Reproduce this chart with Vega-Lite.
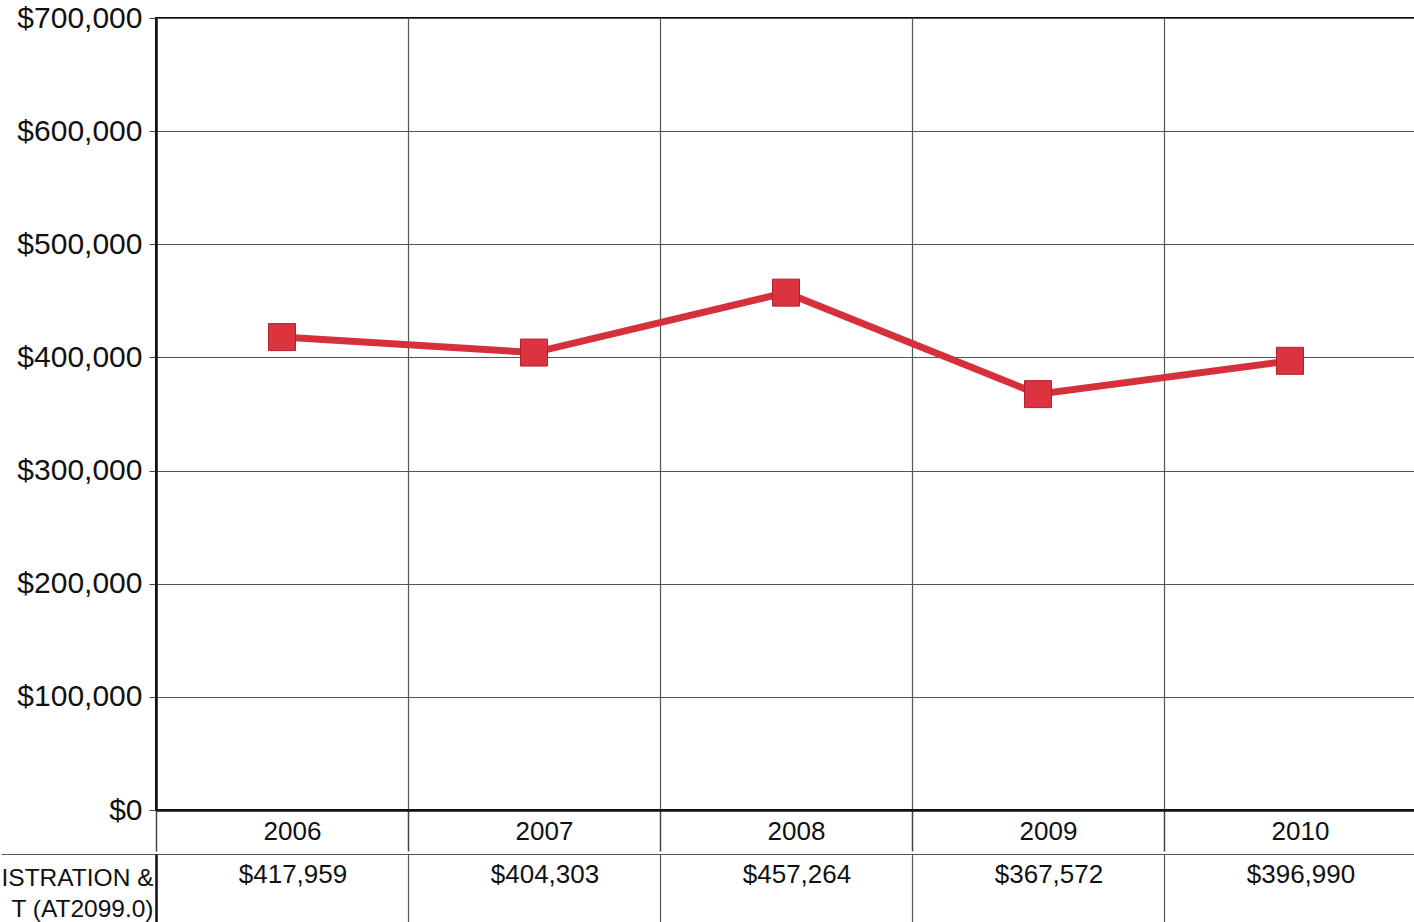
{
  "$schema": "https://vega.github.io/schema/vega-lite/v6.json",
  "padding": {"left": 0, "top": 2, "right": 0, "bottom": 0},
  "background": "white",
  "config": {"font": "Liberation Sans", "view": {"stroke": null}, "concat": {"spacing": 0}},
  "spacing": 0,
  "data": {
    "values": [
      {"year": "2006", "value": 417959, "row": "ISTRATION &\nT (AT2099.0)"},
      {"year": "2007", "value": 404303, "row": "ISTRATION &\nT (AT2099.0)"},
      {"year": "2008", "value": 457264, "row": "ISTRATION &\nT (AT2099.0)"},
      {"year": "2009", "value": 367572, "row": "ISTRATION &\nT (AT2099.0)"},
      {"year": "2010", "value": 396990, "row": "ISTRATION &\nT (AT2099.0)"}
    ]
  },
  "vconcat": [
    {
      "width": 1260,
      "height": 792,
      "view": {"stroke": "#111", "strokeWidth": 2},
      "encoding": {
        "x": {
          "field": "year", "type": "ordinal", "bandPosition": 0.5,
          "scale": {"type": "band", "paddingInner": 0, "paddingOuter": 0},
          "axis": {
            "title": null, "labelFontSize": 26, "labelColor": "#111", "labelAngle": 0,
            "labelOffset": 10,
            "tickBand": "extent", "tickSize": 41, "tickColor": "#444", "tickWidth": 1.5,
            "labelPadding": -33, "labelBaseline": "top",
            "domainColor": "#111", "domainWidth": 2.5,
            "grid": true, "gridColor": "#555", "gridWidth": 1.2
          }
        },
        "y": {
          "field": "value", "type": "quantitative",
          "scale": {"domain": [0, 700000], "nice": false},
          "axis": {
            "title": null,
            "values": [0, 100000, 200000, 300000, 400000, 500000, 600000, 700000],
            "format": "$,.0f", "labelFontSize": 30, "labelColor": "#111",
            "tickSize": 7, "tickColor": "#444", "labelPadding": 7,
            "domainColor": "#111", "domainWidth": 2.5,
            "grid": true, "gridColor": "#555", "gridWidth": 1.2
          }
        }
      },
      "layer": [
        {"mark": {"type": "line", "color": "#d7303d", "strokeWidth": 7}},
        {"mark": {"type": "square", "size": 729, "filled": true, "color": "#dc3340", "stroke": "#b52030", "strokeWidth": 1, "opacity": 1}}
      ]
    },
    {
      "width": 1260,
      "height": 70,
      "mark": {"type": "text", "fontSize": 26, "baseline": "top", "dx": 11, "dy": -27, "color": "#111"},
      "encoding": {
        "x": {
          "field": "year", "type": "ordinal", "bandPosition": 0.5,
          "scale": {"type": "band", "paddingInner": 0, "paddingOuter": 0},
          "axis": {
            "orient": "top", "title": null, "labels": false, "ticks": false, "domain": false,
            "grid": true, "tickBand": "extent", "gridColor": "#555", "gridWidth": 1.2
          }
        },
        "y": {
          "field": "row", "type": "nominal",
          "axis": {
            "title": null, "labelExpr": "split(datum.label, '\\n')",
            "labelFontSize": 24.5, "labelColor": "#111", "labelLineHeight": 31,
            "labelBaseline": "top", "labelOffset": -23,
            "tickBand": "extent", "tickSize": 155, "tickColor": "#555", "tickWidth": 1.2,
            "labelPadding": -152,
            "domainColor": "#111", "domainWidth": 2.5,
            "grid": true, "gridColor": "#555", "gridWidth": 1.2
          }
        },
        "text": {"field": "value", "type": "quantitative", "format": "$,.0f"}
      }
    }
  ],
  "resolve": {"scale": {"x": "independent", "y": "independent"}}
}
